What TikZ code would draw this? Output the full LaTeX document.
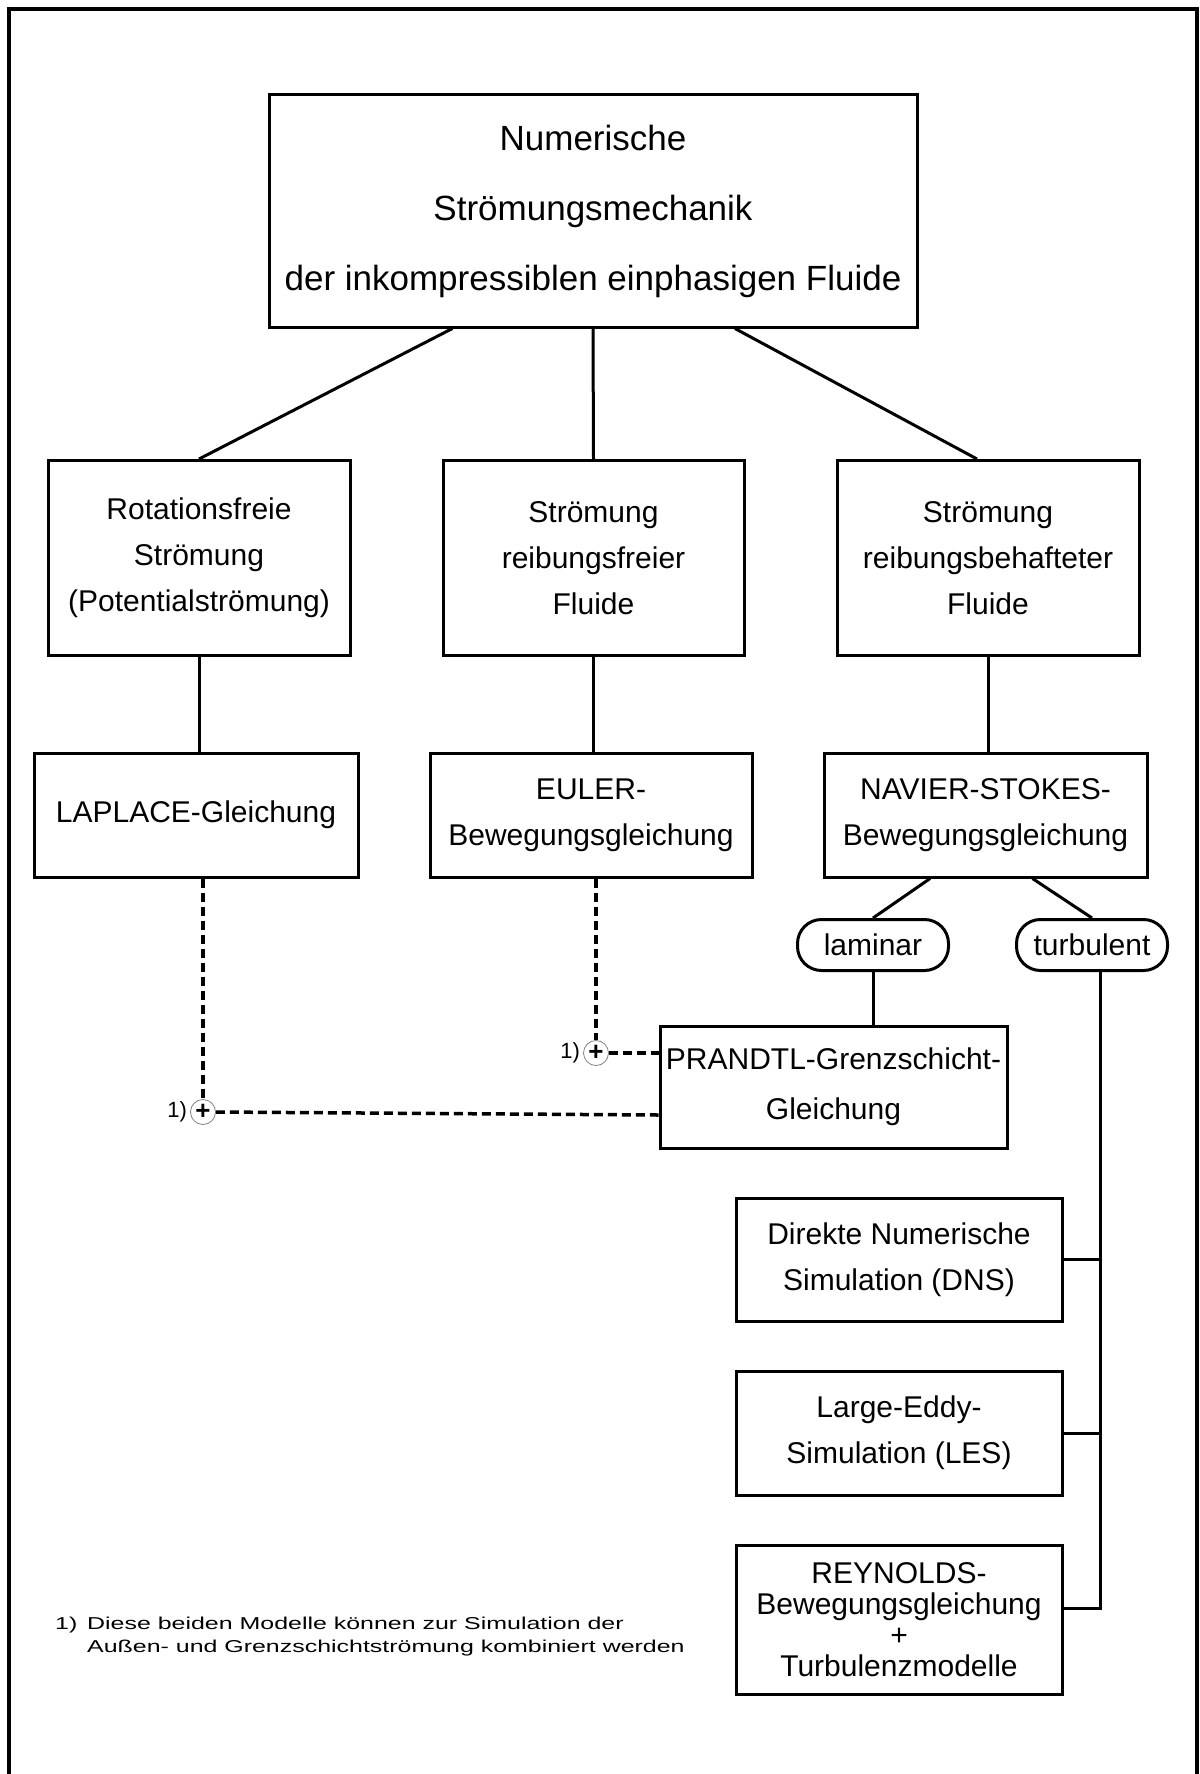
\documentclass[tikz,border=0pt]{standalone}
\usepackage{fontspec}
\setmainfont{Liberation Sans}
\newfontfamily\notefont[FakeStretch=1.45]{Liberation Sans}
\usetikzlibrary{positioning,calc}

\begin{document}
\begin{tikzpicture}[x=1pt,y=-1pt,
  box/.style={draw,line width=3pt,align=center,inner sep=0pt,font=\fontsize{30}{46}\selectfont},
  oval/.style={draw,line width=3pt,rounded corners=24pt,minimum width=151pt,minimum height=51pt,inner sep=0pt,font=\fontsize{30}{36}\selectfont},
  sumnode/.style={circle,draw=gray,line width=0.8pt,minimum size=25pt,inner sep=0pt,font=\fontsize{26}{26}\selectfont\bfseries},
  refmark/.style={inner sep=0pt,font=\fontsize{22}{22}\selectfont},
  note/.style={anchor=base west,inner sep=0pt,font=\notefont\fontsize{17.2}{23}\selectfont},
  link/.style={line width=3pt},
  combi/.style={line width=3.5pt,dash pattern=on 9pt off 5pt}]
  \useasboundingbox (0,0) rectangle (1199,1774);
  \draw[line width=4pt] (9,1774) -- (9,9) -- (1197,9) -- (1197,1774);
  % main tree
  \node[box,minimum width=648pt,minimum height=232pt,font=\fontsize{35}{70}\selectfont] (top) at (593,211) {Numerische\\Strömungsmechanik\\der inkompressiblen einphasigen Fluide};
  \node[box,minimum width=302pt,minimum height=195pt] (rot)  at (199,558)   {Rotationsfreie\\Strömung\\(Potentialströmung)};
  \node[box,minimum width=301pt,minimum height=195pt] (reib) at (593.5,558) {Strömung\\reibungsfreier\\Fluide};
  \node[box,minimum width=302pt,minimum height=195pt] (visk) at (988,558)   {Strömung\\reibungsbehafteter\\Fluide};
  \node[box,minimum width=324pt,minimum height=124pt] (laplace) at (196,815)   {LAPLACE-Gleichung};
  \node[box,minimum width=322pt,minimum height=124pt] (euler)   at (591,815)   {EULER-\\Bewegungsgleichung};
  \node[box,minimum width=323pt,minimum height=124pt] (navier)  at (985.5,815) {NAVIER-STOKES-\\Bewegungsgleichung};
  \node[oval] (lam)  at (873,945)  {laminar};
  \node[oval] (turb) at (1092,945) {turbulent};
  \node[box,minimum width=347pt,minimum height=122pt,font=\fontsize{30}{50}\selectfont] (prandtl) at (833.5,1087) {PRANDTL-Grenzschicht-\\Gleichung};
  \node[box,minimum width=326pt,minimum height=123pt] (dns)  at (899,1259.5) {Direkte Numerische\\Simulation (DNS)};
  \node[box,minimum width=326pt,minimum height=124pt] (les)  at (899,1433)   {Large-Eddy-\\Simulation (LES)};
  \node[box,minimum width=326pt,minimum height=149pt,font=\fontsize{30}{31}\selectfont] (reyn) at (899,1619.5) {REYNOLDS-\\Bewegungsgleichung\\+\\Turbulenzmodelle};
  % combination points
  \node[sumnode] (cEuler) at (596,1053) {+};
  \node[sumnode] (cLap)   at (203,1112) {+};
  \node[refmark,left=3pt of cEuler] (mEuler) {1)};
  \node[refmark,left=3pt of cLap]   (mLap)   {1)};
  \coordinate (trunk) at (1100,1608);
  \draw[link] ($(top.south west)!0.284!(top.south east)$) -- (rot.north);
  \draw[link] (top.south) -- (reib.north);
  \draw[link] ($(top.south west)!0.718!(top.south east)$) -- ([xshift=-11pt]visk.north);
  \draw[link] (rot.south) -- (rot.south |- laplace.north);
  \draw[link] (reib.south) -- (reib.south |- euler.north);
  \draw[link] (visk.south) -- (visk.south |- navier.north);
  \draw[link] ($(navier.south west)!0.33!(navier.south east)$) -- (lam.north);
  \draw[link] ($(navier.south west)!0.644!(navier.south east)$) -- (turb.north);
  \draw[link] (lam.south) -- (lam.south |- prandtl.north);
  \draw[link] (turb.south -| trunk) -- (trunk) -- (trunk -| reyn.east);
  \draw[link] (dns.east) -- (dns.east -| trunk);
  \draw[link] (les.east) -- (les.east -| trunk);
  \draw[combi] (cEuler |- euler.south) -- (cEuler.north);
  \draw[combi] (cEuler.east) -- (cEuler -| prandtl.west);
  \draw[combi] (cLap |- laplace.south) -- (cLap.north);
  \draw[combi] (cLap.east) -- ([yshift=-3pt]cLap -| prandtl.west);
  % footnote
  \node[note] (fnmark) at (55,1629) {1)};
  \node[note] (fnline1) at (87,1629) {Diese beiden Modelle können zur Simulation der};
  \node[note] (fnline2) at (87,1652) {Außen- und Grenzschichtströmung kombiniert werden};
\end{tikzpicture}
\end{document}
